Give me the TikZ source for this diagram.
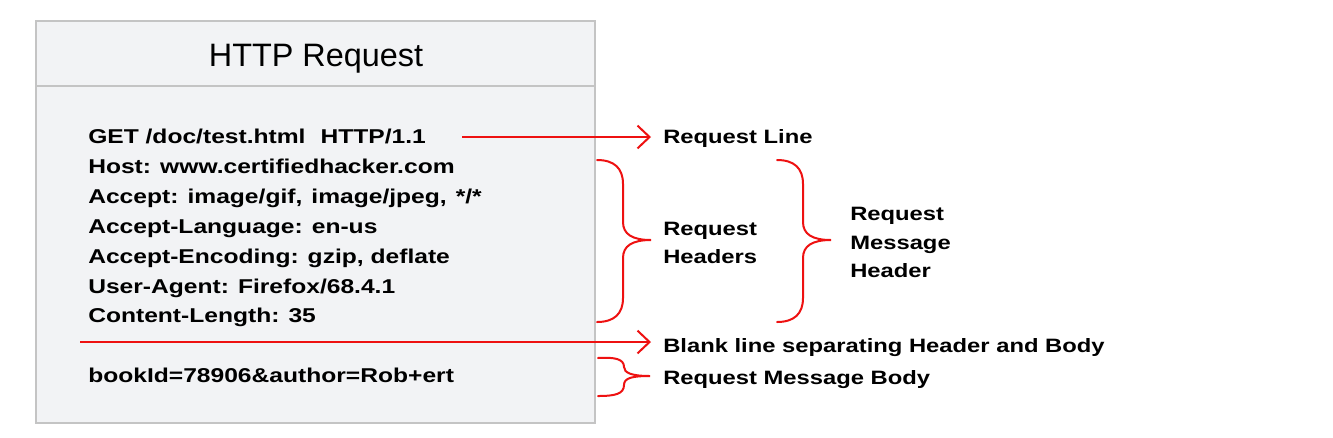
\documentclass[tikz,border=0pt]{standalone}
\usepackage{fontspec}
\setmainfont{Liberation Sans}
\newfontfamily\widesans[FakeStretch=1.23]{Liberation Sans}
\usetikzlibrary{arrows.meta}
\definecolor{boxfill}{HTML}{F2F3F5}
\definecolor{boxline}{HTML}{C4C4C4}
\definecolor{annot}{HTML}{EE1111}
\begin{document}
\begin{tikzpicture}[x=0.75pt,y=-0.75pt,
  bodytext/.style={anchor=base west, inner sep=0pt, font=\widesans\fontsize{15}{17}\selectfont\bfseries},
  lbl/.style={anchor=base west, inner sep=0pt, font=\widesans\fontsize{14.5}{17}\selectfont\bfseries},
  redarrow/.style={draw=annot, line width=1.5pt, -{Straight Barb[length=9pt,width=17pt,line width=1.5pt]}},
  bracestyle/.style={draw=annot, line width=1.5pt, line cap=round}]
\newcommand{\gap}{\hspace{0.45em}}
\useasboundingbox (0,0) rectangle (1333,437);
\fill[white] (0,0) rectangle (1333,437);
% box
\draw[boxline, fill=boxfill, line width=1.5pt] (36,21) rectangle (595,423);
\draw[boxline, line width=1.5pt] (36,86) -- (595,86);
\node[inner sep=0pt, anchor=base, font=\fontsize{24.3}{28}\selectfont] (title) at (316,66) {HTTP Request};
% body lines
\node[bodytext] (l1) at (88,143) {GET /doc/test.html\hspace{0.75em}HTTP/1.1};
\node[bodytext] (l2) at (88,173) {Host: www.certifiedhacker.com};
\node[bodytext] (l3) at (88,203) {Accept: image/gif,\gap image/jpeg,\gap */*};
\node[bodytext] (l4) at (88,233) {Accept-Language:\gap en-us};
\node[bodytext] (l5) at (88,263) {Accept-Encoding:\gap gzip, deflate};
\node[bodytext] (l6) at (88,293) {User-Agent:\gap Firefox/68.4.1};
\node[bodytext] (l7) at (88,322) {Content-Length:\gap 35};
\node[bodytext] (l8) at (88,382) {bookId=78906\&author=Rob+ert};
% labels
\node[lbl] (reqline) at (663,143) {Request Line};
\node[lbl] (rh1) at (663,235) {Request};
\node[lbl] (rh2) at (663,263) {Headers};
\node[lbl] (rm1) at (850,220) {Request};
\node[lbl] (rm2) at (850,249) {Message};
\node[lbl] (rm3) at (850,277) {Header};
\node[lbl] (blank) at (663,352) {Blank line separating Header and Body};
\node[lbl] (body) at (663,384) {Request Message Body};
% arrows
\coordinate (a1s) at (462,137);
\coordinate (a1e) at (651,137);
\draw[redarrow] (a1s) -- (a1e);
\coordinate (a2s) at (80,342);
\coordinate (a2e) at (651,342);
\draw[redarrow] (a2s) -- (a2e);
% brace 1 (request headers)
\coordinate (b1tip) at (651,240);
\draw[bracestyle] (597,160) .. controls (614,160) and (623,168) .. (623,184) -- (623,222)
  .. controls (623,234) and (632,240) .. (b1tip)
  .. controls (632,240) and (623,246) .. (623,258) -- (623,298)
  .. controls (623,314) and (614,322) .. (597,322);
% brace 2 (request message header)
\coordinate (b2tip) at (831,240);
\draw[bracestyle] (777,160) .. controls (794,160) and (803,168) .. (803,184) -- (803,222)
  .. controls (803,234) and (812,240) .. (b2tip)
  .. controls (812,240) and (803,246) .. (803,258) -- (803,298)
  .. controls (803,314) and (794,322) .. (777,322);
% brace 3 (body)
\coordinate (b3tip) at (650,376);
\draw[bracestyle] (598,358) .. controls (615,357) and (624,359) .. (624,367)
  .. controls (624,373) and (632,376) .. (b3tip)
  .. controls (632,376) and (624,378) .. (624,385)
  .. controls (624,394) and (615,396) .. (598,396);
\end{tikzpicture}
\end{document}
